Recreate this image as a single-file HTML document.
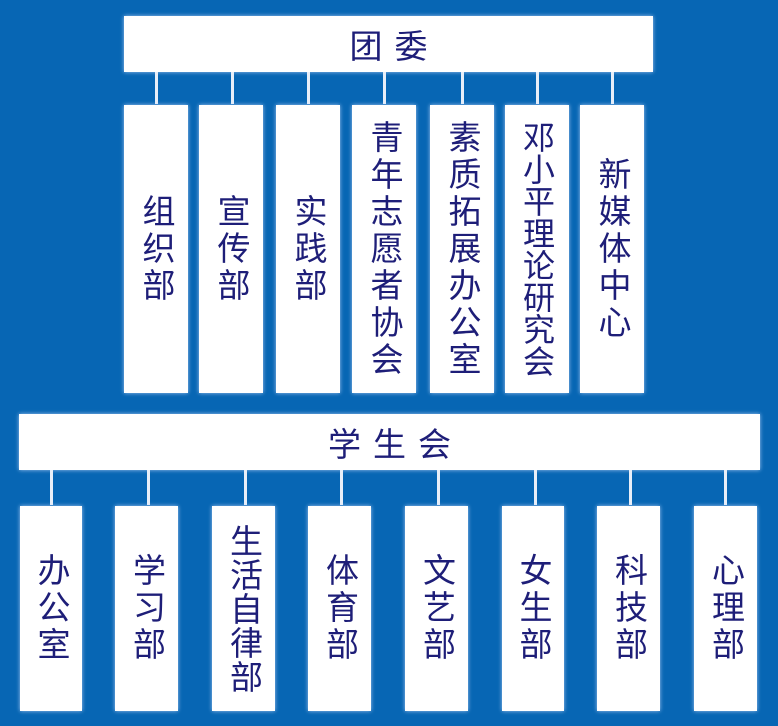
<!DOCTYPE html>
<html><head><meta charset="utf-8"><style>
body{margin:0;width:778px;height:726px;background:#0766b4;position:relative;overflow:hidden;font-family:"Liberation Sans","Noto Sans CJK SC",sans-serif;color:#1e1e78}
.b{position:absolute;background:#fff;box-shadow:0 0 4px rgba(200,220,255,.8);display:flex;align-items:center;justify-content:center}
.v{writing-mode:vertical-rl;text-orientation:upright;font-size:33px;line-height:38px;letter-spacing:4px;white-space:nowrap}
.h{font-size:33px;letter-spacing:12px;text-indent:12px}
.l{position:absolute;width:3px;background:#e8eef8}
</style></head><body>
<div class="b h" style="left:124px;top:16px;width:529px;height:56px">团委</div>
<div class="l" style="left:155px;top:72px;height:32px"></div>
<div class="l" style="left:231px;top:72px;height:32px"></div>
<div class="l" style="left:307px;top:72px;height:32px"></div>
<div class="l" style="left:383px;top:72px;height:32px"></div>
<div class="l" style="left:461px;top:72px;height:32px"></div>
<div class="l" style="left:536px;top:72px;height:32px"></div>
<div class="l" style="left:611px;top:72px;height:32px"></div>
<div class="b" style="left:124px;top:105px;width:64px;height:288px"><span class="v">组织部</span></div>
<div class="b" style="left:199px;top:105px;width:64px;height:288px"><span class="v">宣传部</span></div>
<div class="b" style="left:276px;top:105px;width:64px;height:288px"><span class="v">实践部</span></div>
<div class="b" style="left:352px;top:105px;width:64px;height:288px"><span class="v">青年志愿者协会</span></div>
<div class="b" style="left:430px;top:105px;width:64px;height:288px"><span class="v">素质拓展办公室</span></div>
<div class="b" style="left:505px;top:105px;width:64px;height:288px"><span class="v" style="font-size:32px;letter-spacing:0">邓小平理论研究会</span></div>
<div class="b" style="left:580px;top:105px;width:64px;height:288px"><span class="v">新媒体中心</span></div>

<div class="b h" style="left:19px;top:414px;width:741px;height:56px">学生会</div>
<div class="l" style="left:50px;top:470px;height:35px"></div>
<div class="l" style="left:147px;top:470px;height:35px"></div>
<div class="l" style="left:244px;top:470px;height:35px"></div>
<div class="l" style="left:340px;top:470px;height:35px"></div>
<div class="l" style="left:437px;top:470px;height:35px"></div>
<div class="l" style="left:534px;top:470px;height:35px"></div>
<div class="l" style="left:629px;top:470px;height:35px"></div>
<div class="l" style="left:724px;top:470px;height:35px"></div>
<div class="b" style="left:20px;top:506px;width:62px;height:205px"><span class="v">办公室</span></div>
<div class="b" style="left:115px;top:506px;width:63px;height:205px"><span class="v">学习部</span></div>
<div class="b" style="left:212px;top:506px;width:63px;height:205px"><span class="v" style="letter-spacing:1px">生活自律部</span></div>
<div class="b" style="left:308px;top:506px;width:63px;height:205px"><span class="v">体育部</span></div>
<div class="b" style="left:405px;top:506px;width:63px;height:205px"><span class="v">文艺部</span></div>
<div class="b" style="left:502px;top:506px;width:62px;height:205px"><span class="v">女生部</span></div>
<div class="b" style="left:597px;top:506px;width:63px;height:205px"><span class="v">科技部</span></div>
<div class="b" style="left:694px;top:506px;width:63px;height:205px"><span class="v">心理部</span></div>
</body></html>
